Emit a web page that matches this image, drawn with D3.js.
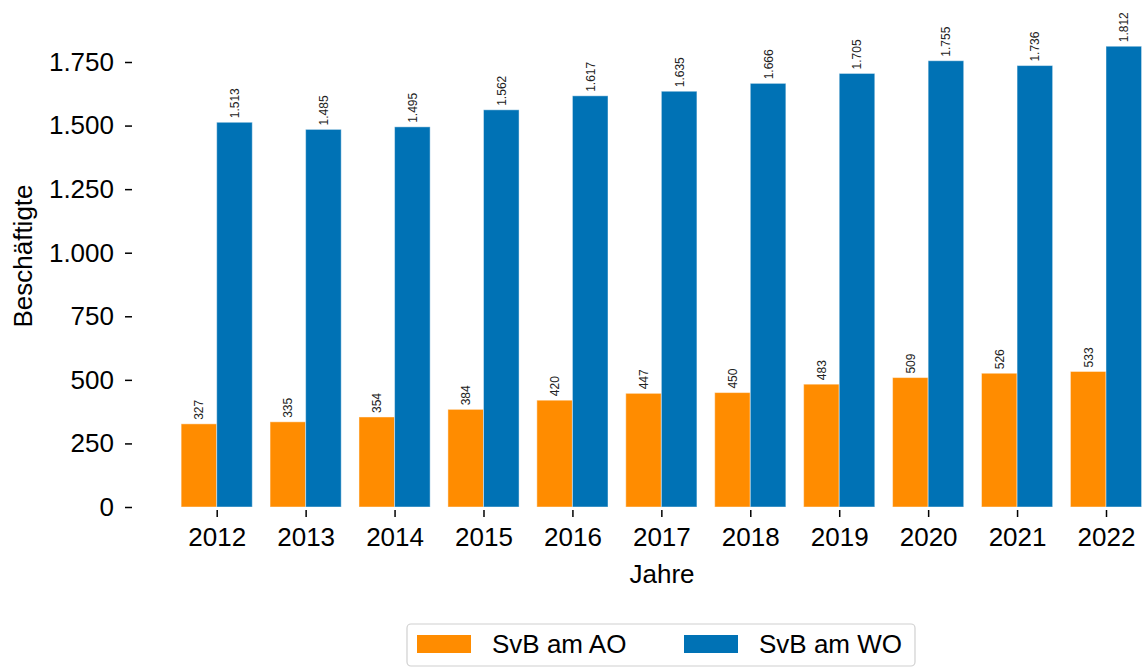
<!DOCTYPE html>
<html><head><meta charset="utf-8">
<script src="https://cdn.jsdelivr.net/npm/d3@7"></script>
<style>
html,body{margin:0;padding:0;background:#fff;}
svg{display:block;font-family:"Liberation Sans",Arial,sans-serif;}
</style></head>
<body>
<svg id="chart" width="1145" height="669"></svg>
<script>
const years = ["2012","2013","2014","2015","2016","2017","2018","2019","2020","2021","2022"];
const seriesNames = ["SvB am AO","SvB am WO"];
const valuesAO = [327,335,354,384,420,447,450,483,509,526,533];
const valuesWO = [1513,1485,1495,1562,1617,1635,1666,1705,1755,1736,1812];
const yTicks = [0,250,500,750,1000,1250,1500,1750];
const colors = ["#ff8c00","#0072b5"];

const loc = d3.formatLocale({decimal:",", thousands:".", grouping:[3], currency:["","€"]});
const fmt = loc.format(",d");

const svg = d3.select("#chart");
const x = d3.scalePoint().domain(years).range([216.7, 1106]);
const step = x.step();
const barW = step*0.4;
const y = d3.scaleLinear().domain([0,1750]).range([507, 62]);

const data = years.map((yr,i)=>({year:yr, vals:[valuesAO[i], valuesWO[i]]}));

const g = svg.append("g");
data.forEach(d=>{
  d.vals.forEach((v,k)=>{
    const bx = x(d.year) + (k===0 ? -barW : 0);
    g.append("rect")
      .attr("x", bx).attr("y", y(v))
      .attr("width", barW).attr("height", y(0)-y(v))
      .attr("fill", colors[k])
      .attr("stroke","rgba(255,255,255,0.45)").attr("stroke-width",1);
    const cx = bx + barW/2;
    const ty = y(v) - 4;
    g.append("text")
      .attr("transform", `translate(${cx+4.5},${ty}) rotate(-90)`)
      .attr("font-size", 12).attr("fill","#222")
      .text(fmt(v));
  });
});

// Y axis
const yAxis = d3.axisLeft(y).tickValues(yTicks).tickSize(7).tickPadding(11).tickFormat(fmt);
const ya = svg.append("g").attr("transform","translate(132,0)").call(yAxis);
ya.select(".domain").remove();
ya.selectAll("text").attr("font-size",26).attr("fill","#000").attr("font-family","Liberation Sans, Arial, sans-serif");
ya.selectAll("line").attr("stroke","#000").attr("stroke-width",1.5);

// X axis
const xAxis = d3.axisBottom(x).tickSize(7).tickPadding(11);
const xa = svg.append("g").attr("transform","translate(0,510)").call(xAxis);
xa.select(".domain").remove();
xa.selectAll("text").attr("font-size",26).attr("fill","#000").attr("font-family","Liberation Sans, Arial, sans-serif");
xa.selectAll("line").attr("stroke","#000").attr("stroke-width",1.5);

// Axis titles
svg.append("text").attr("transform","translate(31.5,256) rotate(-90)")
  .attr("text-anchor","middle").attr("font-size",26).attr("fill","#000").text("Beschäftigte");
svg.append("text").attr("x",662).attr("y",583)
  .attr("text-anchor","middle").attr("font-size",26).attr("fill","#000").text("Jahre");

// Legend
const lg = svg.append("g");
lg.append("rect").attr("x",407).attr("y",624).attr("width",508).attr("height",42)
  .attr("rx",4).attr("fill","#fff").attr("stroke","#d0d0d0").attr("stroke-width",1.2);
const legX = [417, 684];
seriesNames.forEach((n,k)=>{
  lg.append("rect").attr("x",legX[k]).attr("y",635).attr("width",54).attr("height",18).attr("fill",colors[k]);
  lg.append("text").attr("x",legX[k]+75).attr("y",653).attr("font-size",26).attr("fill","#000").text(n);
});
</script>
</body></html>
